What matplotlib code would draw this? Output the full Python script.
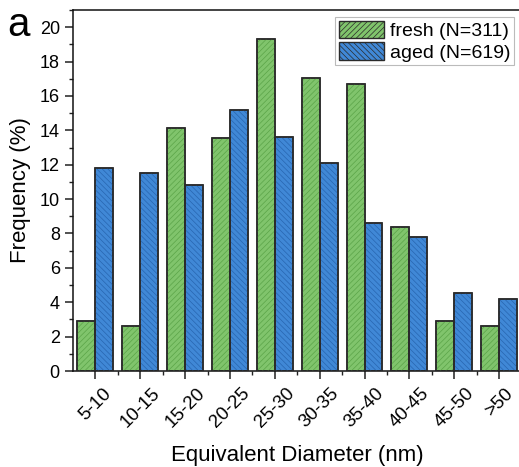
import matplotlib
matplotlib.use("Agg")
import matplotlib.pyplot as plt
import matplotlib.transforms as mtransforms
import numpy as np
from matplotlib.patches import Patch
from matplotlib.ticker import MultipleLocator, FixedLocator

categories = ["5-10", "10-15", "15-20", "20-25", "25-30", "30-35", "35-40", "40-45", "45-50", ">50"]
fresh = [2.9, 2.6, 14.15, 13.55, 19.3, 17.05, 16.7, 8.35, 2.9, 2.6]
aged = [11.8, 11.5, 10.8, 15.2, 13.6, 12.1, 8.6, 7.8, 4.55, 4.2]

plt.rcParams['font.family'] = ['Liberation Sans', 'DejaVu Sans']
plt.rcParams['hatch.linewidth'] = 0.5

green = "#80c46c"
green_h = "#5aa448"
blue = "#4088d6"
blue_h = "#2866b0"
edge = "#2a2a2a"

W, H = 519, 467
fig = plt.figure(figsize=(W / 100, H / 100), dpi=100)
left, right, top, bottom = 73, 521.5, 10, 371
ax = fig.add_axes([left / W, 1 - bottom / H, (right - left) / W, (bottom - top) / H])

x = np.arange(len(categories))
bw = 0.4
ax.bar(x - bw / 2, fresh, bw, color=green, edgecolor=edge, linewidth=1.1, zorder=2)
ax.bar(x - bw / 2, fresh, bw, color="none", edgecolor=green_h, hatch="//////", linewidth=0, zorder=3)
ax.bar(x - bw / 2, fresh, bw, color="none", edgecolor=edge, linewidth=1.1, zorder=4)
ax.bar(x + bw / 2, aged, bw, color=blue, edgecolor=edge, linewidth=1.1, zorder=2)
ax.bar(x + bw / 2, aged, bw, color="none", edgecolor=blue_h, hatch="\\\\\\\\\\\\", linewidth=0, zorder=3)
ax.bar(x + bw / 2, aged, bw, color="none", edgecolor=edge, linewidth=1.1, zorder=4)

ax.set_xlim(-0.5, len(categories) - 0.5)
ax.set_ylim(0, 21)
ax.set_xticks(x)
ax.set_xticklabels(categories, rotation=45, ha="center", fontsize=13.5)
shift = mtransforms.ScaledTranslation(-4 / 100, 0, fig.dpi_scale_trans)
for lab in ax.get_xticklabels():
    lab.set_transform(lab.get_transform() + shift)
ax.xaxis.set_minor_locator(FixedLocator(x[:-1] + 0.5))
ax.yaxis.set_major_locator(MultipleLocator(2))
ax.yaxis.set_minor_locator(MultipleLocator(1))
ax.tick_params(axis="both", which="major", direction="out", length=6, width=1.1, labelsize=13, color="#222222")
ax.tick_params(axis="x", which="major", labelsize=13.5, pad=4)
ax.tick_params(axis="both", which="minor", direction="out", length=3, width=1.0, color="#222222")
for s in ax.spines.values():
    s.set_linewidth(1.1)
    s.set_color("#111111")

ax.set_ylabel("Frequency (%)", fontsize=16, labelpad=6)
fig.text(297 / W, 1 - 461 / H, "Equivalent Diameter (nm)", fontsize=16,
         ha="center", va="baseline")

handles = [Patch(facecolor=green, edgecolor=edge, hatch="//////"),
           Patch(facecolor=blue, edgecolor=edge, hatch="\\\\\\\\\\\\")]
leg = ax.legend(handles, ["fresh (N=311)", "aged (N=619)"], loc="upper right",
                bbox_to_anchor=((514 - left) / (right - left), 1 - (17 - top) / (bottom - top)),
                fontsize=14, frameon=True, fancybox=False, edgecolor="#aaaaaa",
                handlelength=2.3, handleheight=1.0, borderpad=0.2, labelspacing=0.1,
                handletextpad=0.3, borderaxespad=0)
leg.get_frame().set_linewidth(0.8)

fig.text(7 / W, 1 - 36 / H, "a", fontsize=29, ha="left", va="baseline")

fig.savefig("out.png", dpi=100)
